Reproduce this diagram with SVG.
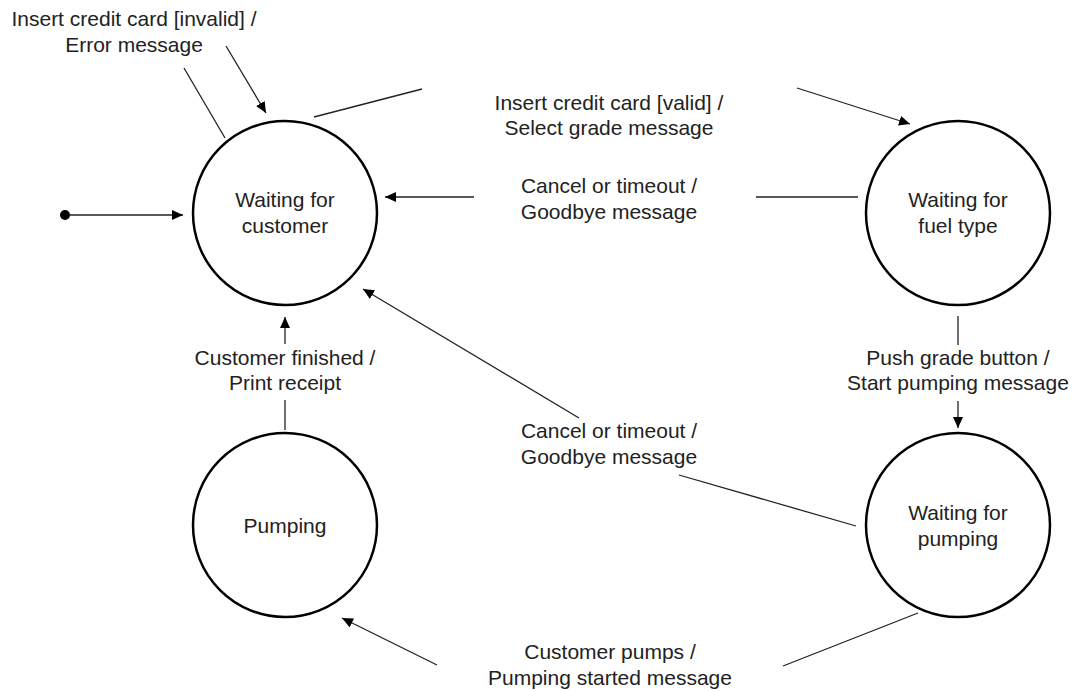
<svg xmlns="http://www.w3.org/2000/svg" width="1079" height="691" viewBox="0 0 1079 691">
<style>
.state{fill:#fff;stroke:#000;stroke-width:2.5}
.lbl{font-family:"Liberation Sans",Arial,sans-serif;font-size:21px;fill:#222;text-anchor:middle}
.c{fill:none;stroke:#222;stroke-width:1.3}
.ca{fill:none;stroke:#222;stroke-width:1.3;marker-end:url(#arr)}
</style>
<defs>
<marker id="arr" markerUnits="userSpaceOnUse" markerWidth="11" markerHeight="10" refX="11" refY="5" orient="auto">
<path d="M0,0 L11,5 L0,10 z" fill="#000"/>
</marker>
</defs>
<rect width="1079" height="691" fill="#fff"/>
<g id="connectors">
<circle cx="65" cy="215" r="5" fill="#000"/>
<path class="ca" d="M70,215 L183,215"/>
<path class="c" d="M184,68 L225,138"/>
<path class="ca" d="M226,46 L266,113"/>
<path class="c" d="M314,117 L422,89"/>
<path class="ca" d="M797,88 L910,124"/>
<path class="c" d="M858,197 L756,197"/>
<path class="ca" d="M474,197 L385,197"/>
<path class="c" d="M958,316 L958,345"/>
<path class="ca" d="M958,401 L958,428"/>
<path class="c" d="M285,430 L285,400"/>
<path class="ca" d="M285,344 L285,317"/>
<path class="c" d="M856,526 L679,475"/>
<path class="ca" d="M579,418 L363,289"/>
<path class="c" d="M918,613 L783,666"/>
<path class="ca" d="M437,665 L342,618"/>
<text class="lbl" x="134" y="26">Insert credit card [invalid] /</text>
<text class="lbl" x="134" y="52">Error message</text>
<text class="lbl" x="609" y="110">Insert credit card [valid] /</text>
<text class="lbl" x="609" y="135">Select grade message</text>
<text class="lbl" x="609" y="193">Cancel or timeout /</text>
<text class="lbl" x="609" y="219">Goodbye message</text>
<text class="lbl" x="958" y="365">Push grade button /</text>
<text class="lbl" x="958" y="390">Start pumping message</text>
<text class="lbl" x="285" y="365">Customer finished /</text>
<text class="lbl" x="285" y="390">Print receipt</text>
<text class="lbl" x="609" y="438">Cancel or timeout /</text>
<text class="lbl" x="609" y="464">Goodbye message</text>
<text class="lbl" x="610" y="659">Customer pumps /</text>
<text class="lbl" x="610" y="685">Pumping started message</text>
</g>
<g id="waiting-for-customer">
<circle class="state" cx="285" cy="213" r="92"/>
<text class="lbl" x="285" y="207">Waiting for</text>
<text class="lbl" x="285" y="233">customer</text>
</g>
<g id="waiting-for-fuel-type">
<circle class="state" cx="958" cy="213" r="92"/>
<text class="lbl" x="958" y="207">Waiting for</text>
<text class="lbl" x="958" y="233">fuel type</text>
</g>
<g id="pumping">
<circle class="state" cx="285" cy="525" r="92"/>
<text class="lbl" x="285" y="533">Pumping</text>
</g>
<g id="waiting-for-pumping">
<circle class="state" cx="958" cy="525" r="92"/>
<text class="lbl" x="958" y="520">Waiting for</text>
<text class="lbl" x="958" y="546">pumping</text>
</g>
</svg>
